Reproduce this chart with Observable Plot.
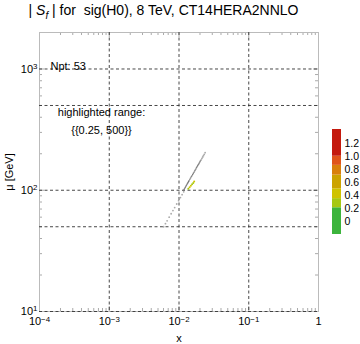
<!DOCTYPE html>
<html><head><meta charset="utf-8">
<script src="https://cdn.jsdelivr.net/npm/d3@7"></script>
<script src="https://cdn.jsdelivr.net/npm/@observablehq/plot@0.6"></script>
<style>
body{margin:0;background:#fff;font-family:"Liberation Sans",Arial,sans-serif;}
#wrap{position:relative;width:360px;height:344px;overflow:hidden;background:#fff}
#title{position:absolute;left:0;top:0;width:327px;text-align:center;line-height:20px;font-size:14px;white-space:pre;color:#000}
#main{position:absolute;left:0;top:0}
#cbar{position:absolute;left:330px;top:124px}
</style></head>
<body>
<div id="wrap">
  <div id="main"></div>
  <div id="cbar"></div>
  <div id="title">| <i>S<sub style="font-size:10px">f</sub></i> | for  sig(H0), 8 TeV, CT14HERA2NNLO</div>
</div>
<script>
// ---- data ----
const grayX = [0.00602,0.00639,0.00675,0.00723,0.00771,0.00819,0.00867,0.00928,0.00988,0.01048,0.01108,0.01169,
  0.01163,0.01186,0.01209,0.01233,0.01256,0.01279,0.01302,0.01326,0.01349,0.01372,0.01395,0.01430,0.01465,0.01500,0.01535,
  0.01570,0.01605,0.01640,0.01674,0.01709,0.01744,0.01779,0.01814,0.01849,0.01884,0.01919,0.01953,0.01988,0.02023,0.02070,
  0.0213,0.0219,0.0224,0.0230,0.0237];
const grayMu = [50,53,56,60,64,68,72,77,82,87,92,97,
  100,102,104,106,108,110,112,114,116,118,120,123,126,129,132,
  135,138,141,144,147,150,153,156,159,162,165,168,171,174,178,
  183,188,193,198,204];
const graySf = [0.03,0.04,0.05,0.05,0.06,0.07,0.08,0.09,0.10,0.11,0.12,0.14,
  0.15,0.16,0.17,0.18,0.19,0.20,0.20,0.19,0.18,0.18,0.17,0.16,0.15,0.15,0.14,
  0.14,0.13,0.13,0.12,0.12,0.11,0.11,0.10,0.10,0.09,0.09,0.08,0.08,0.07,0.07,
  0.06,0.05,0.05,0.04,0.04];
const hiX  = [0.0136,0.0142,0.0148,0.0154,0.0160,0.0165];
const hiMu = [103,106,109,112,115,118];
const hiSf = [0.30,0.38,0.42,0.33,0.28,0.36];

const xTicks = [1e-4,1e-3,1e-2,1e-1,1];
const xTickLabels = ["10^-4","10^-3","10^-2","10^-1","1"];
const yTicks = [10,100,1000];
const yTickLabels = ["10^1","10^2","10^3"];
const xGrid = [1e-3,1e-2,1e-1];
const yGrid = [10,50,100,500,1000];
const xMinor = [2e-4,3e-4,4e-4,5e-4,6e-4,7e-4,8e-4,9e-4,2e-3,3e-3,4e-3,5e-3,6e-3,7e-3,8e-3,9e-3,
  2e-2,3e-2,4e-2,5e-2,6e-2,7e-2,8e-2,9e-2,0.2,0.3,0.4,0.5,0.6,0.7,0.8,0.9];
const yMinor = [20,30,40,50,60,70,80,90,200,300,400,500,600,700,800,900,2000];

const bandLo = [-0.2,0.21,0.35,0.5,0.71,0.86,1.0];
const bandHi = [0.21,0.35,0.5,0.71,0.86,1.0,1.41];
const thresholds = [0.21,0.35,0.5,0.71,0.86,1.0];
const palette = ["#3cb43c","#a6c813","#cfc300","#cca300","#d9800b","#e0541a","#c41a0e"];
const cbTicks = [0,0.2,0.4,0.6,0.8,1.0,1.2];
const cbTickLabels = ["0","0.2","0.4","0.6","0.8","1.0","1.2"];

const nptText = ["Npt: 53"];
const hlText1 = ["highlighted range:"];
const hlText2 = ["{{0.25, 500}}"];

// ---- build ----
const gray = grayX.map((x,i)=>({x, mu:grayMu[i], sf:graySf[i], i}));
const hi = hiX.map((x,i)=>({x, mu:hiMu[i], sf:hiSf[i]}));
const bands = bandLo.map((lo,i)=>({lo, hi:bandHi[i]}));
const dense = gray.filter(d => d.i >= 12 && d.i < 42);
const sparse = gray.filter(d => d.i < 12 || d.i >= 42);

const W=360,H=344,ML=39,MR=42,MT=32,MB=33;
const FW=W-ML-MR, FH=H-MT-MB;
const lab = (ticks, labels) => d => labels[ticks.indexOf(d)];
const tickCol = "#aaa";

const main = Plot.plot({
  width:W, height:H, marginLeft:ML, marginRight:MR, marginTop:MT, marginBottom:MB,
  style:{fontFamily:'"Liberation Sans",Arial,sans-serif', background:"#fff", color:"#000"},
  x:{type:"log", domain:[1e-4,1]},
  y:{type:"log", domain:[10,2000]},
  color:{type:"threshold", domain:thresholds, range:palette},
  marks:[
    Plot.tickX(xMinor,{x:d=>d, insetTop:FH-3, stroke:tickCol}),
    Plot.tickX(xMinor,{x:d=>d, insetBottom:FH-3, stroke:tickCol}),
    Plot.tickX(xTicks,{x:d=>d, insetTop:FH-5, stroke:tickCol}),
    Plot.tickX(xTicks,{x:d=>d, insetBottom:FH-5, stroke:tickCol}),
    Plot.tickY(yMinor,{y:d=>d, insetRight:FW-3, stroke:tickCol}),
    Plot.tickY(yMinor,{y:d=>d, insetLeft:FW-3, stroke:tickCol}),
    Plot.tickY(yTicks,{y:d=>d, insetRight:FW-5, stroke:tickCol}),
    Plot.tickY(yTicks,{y:d=>d, insetLeft:FW-5, stroke:tickCol}),
    Plot.frame({stroke:"#bbb"}),
    Plot.ruleX(xGrid,{x:d=>d, stroke:"#333", strokeDasharray:"3,2.5", strokeWidth:0.9}),
    Plot.ruleY(yGrid,{y:d=>d, stroke:"#333", strokeDasharray:"3,2.5", strokeWidth:0.9}),
    Plot.dot(sparse,{x:"x", y:"mu", r:0.9, fill:"#aaa", stroke:null}),
    Plot.dot(dense,{x:"x", y:"mu", r:0.75, fill:"#777", stroke:null}),
    Plot.dot(hi,{x:"x", y:"mu", r:1.0, fill:"sf", stroke:null}),
    Plot.text(nptText,{frameAnchor:"top-left", dx:11, dy:30, textAnchor:"start", fontSize:11}),
    Plot.text(hlText1,{frameAnchor:"top-left", dx:62, dy:76, textAnchor:"middle", fontSize:11}),
    Plot.text(hlText2,{frameAnchor:"top-left", dx:62, dy:94, textAnchor:"middle", fontSize:11}),
    Plot.axisX({ticks:xTicks, tickSize:0, tickPadding:6, fontSize:11, tickFormat:lab(xTicks,xTickLabels),
      label:"x", labelAnchor:"center", labelArrow:"none", labelOffset:30}),
    Plot.axisY({ticks:yTicks, tickSize:0, tickPadding:2, fontSize:11, tickFormat:lab(yTicks,yTickLabels),
      label:"μ [GeV]", labelAnchor:"center", labelArrow:"none", labelOffset:34})
  ]
});

const ns = "http://www.w3.org/2000/svg";
main.querySelectorAll("text").forEach(t => {
  const m = /^10\^(-?\d+)$/.exec(t.textContent);
  if (m) {
    t.textContent = "";
    const a = document.createElementNS(ns,"tspan"); a.textContent = "10";
    const b = document.createElementNS(ns,"tspan"); b.textContent = m[1].replace("-","−");
    b.setAttribute("dy","-0.45em"); b.setAttribute("font-size","0.72em");
    t.append(a,b);
  }
});
document.getElementById("main").append(main);

const cb = Plot.plot({
  width:30, height:115, marginLeft:2, marginRight:19, marginTop:5, marginBottom:5,
  style:{fontFamily:'"Liberation Sans",Arial,sans-serif', background:"transparent", color:"#000", overflow:"visible"},
  x:{domain:[0,1], axis:null},
  y:{domain:[-0.2,1.41]},
  color:{type:"threshold", domain:thresholds, range:palette},
  marks:[
    Plot.rect(bands,{x1:0, x2:1, y1:"lo", y2:"hi", fill:"lo"}),
    Plot.axisY({anchor:"right", ticks:cbTicks, tickSize:0, tickPadding:3, fontSize:10.5,
      tickFormat:lab(cbTicks,cbTickLabels), label:null})
  ]
});
document.getElementById("cbar").append(cb);
</script>
</body></html>
